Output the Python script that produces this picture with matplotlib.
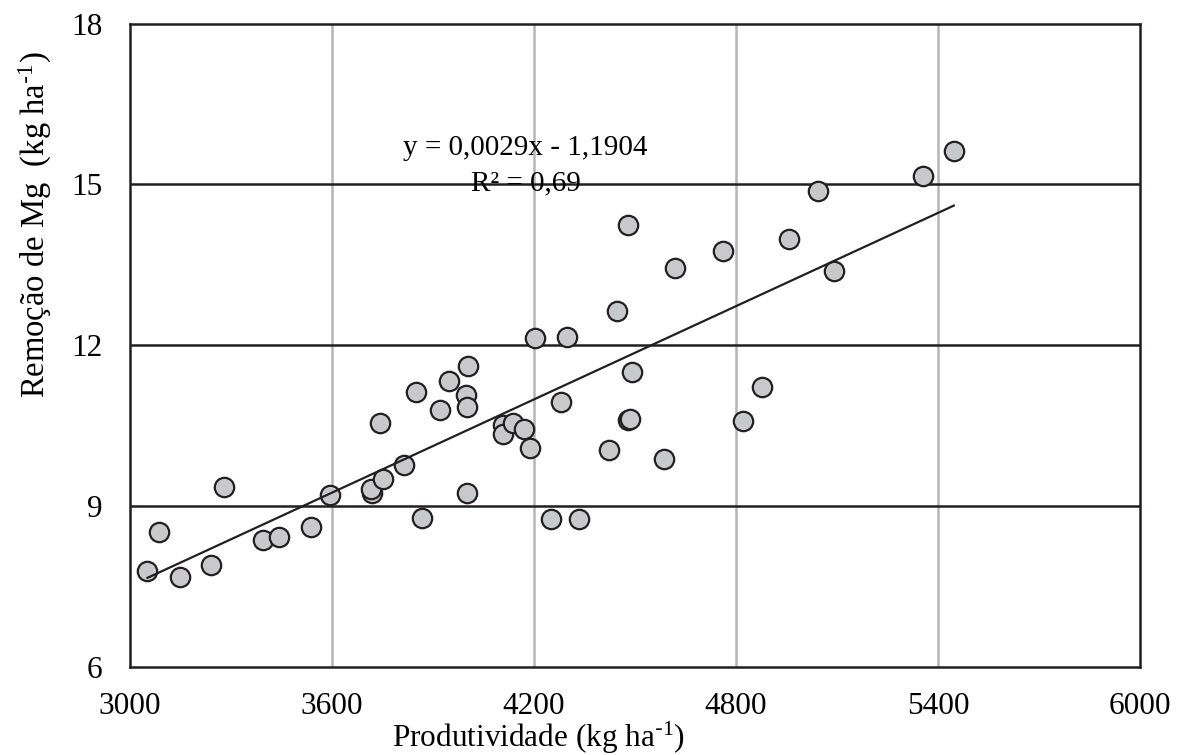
import matplotlib
matplotlib.use("Agg")
import matplotlib.pyplot as plt
import numpy as np

plt.rcParams['font.family'] = ['Liberation Serif', 'DejaVu Serif']
plt.rcParams['mathtext.default'] = 'regular'

# Produtividade (kg/ha) e remoção de Mg (kg/ha)
produtividade = [3052, 3087, 3149, 3240, 3280, 3396, 3443, 3539, 3593, 3718,
                 3716, 3751, 3743, 3815, 3868, 3851, 3921, 3947, 3997, 4002,
                 4004, 4001, 4109, 4109, 4137, 4170, 4188, 4203, 4250, 4279,
                 4297, 4334, 4424, 4447, 4479, 4478, 4484, 4492, 4586, 4620,
                 4762, 4820, 4878, 4957, 5043, 5092, 5355, 5447]
remocao_mg = [7.79, 8.52, 7.67, 7.90, 9.35, 8.36, 8.43, 8.60, 9.20, 9.24,
              9.32, 9.50, 10.55, 9.77, 8.78, 11.13, 10.79, 11.33, 11.08, 10.85,
              11.61, 9.24, 10.52, 10.35, 10.55, 10.43, 10.09, 12.14, 8.75, 10.95,
              12.16, 8.75, 10.04, 12.63, 14.24, 10.60, 10.62, 11.50, 9.87, 13.44,
              13.76, 10.59, 11.22, 13.98, 14.88, 13.38, 15.16, 15.63]

# coeficientes da linha de tendência (equação do gráfico)
pente, ordonnee = 0.0029, -1.1904

x = np.array(produtividade)
y = np.array(remocao_mg)

fig = plt.figure(figsize=(11.87, 7.55), dpi=100)
ax = fig.add_axes([0.1095, 0.1168, 0.8509, 0.8518])

# grade: vertical cinza, horizontal preta
for xv in [3600, 4200, 4800, 5400]:
    ax.axvline(xv, color='#b5b5b5', lw=1.8, zorder=1)
for yv in [9, 12, 15]:
    ax.axhline(yv, color='#231f20', lw=1.8, zorder=1)

ax.scatter(x, y, s=195, facecolor='#c8c9cb', edgecolor='#231f20',
           linewidth=1.6, zorder=3)

xl = np.array([x.min(), x.max()])
ax.plot(xl, ordonnee + pente * xl, color='#231f20', lw=1.6, zorder=4)

ax.text(4175, 15.68, 'y = 0,0029x - 1,1904', ha='center', va='center',
        fontsize=21, zorder=5)
ax.text(4175, 15.02, 'R² = 0,69', ha='center', va='center',
        fontsize=21, zorder=5)

ax.set_xlim(3000, 6000)
ax.set_ylim(6, 18)
ax.set_xticks([3000, 3600, 4200, 4800, 5400, 6000])
ax.set_yticks([6, 9, 12, 15, 18])
ax.tick_params(length=0, labelsize=22.5)
ax.tick_params(axis='x', pad=18)
ax.tick_params(axis='y', pad=20)
for s in ax.spines.values():
    s.set_color('#231f20')
    s.set_linewidth(1.8)

ax.set_xlabel(r'Produtividade (kg ha$^{\text{-}1}$)', fontsize=22.5, va='baseline')
ax.set_ylabel(r'Remoção de Mg  (kg ha$^{\text{-}1}$)', fontsize=23.5, va='center')
ax.xaxis.set_label_coords(0.405, -0.1247)
ax.yaxis.set_label_coords(-0.094, 0.687)

fig.savefig('out.png', dpi=100)
